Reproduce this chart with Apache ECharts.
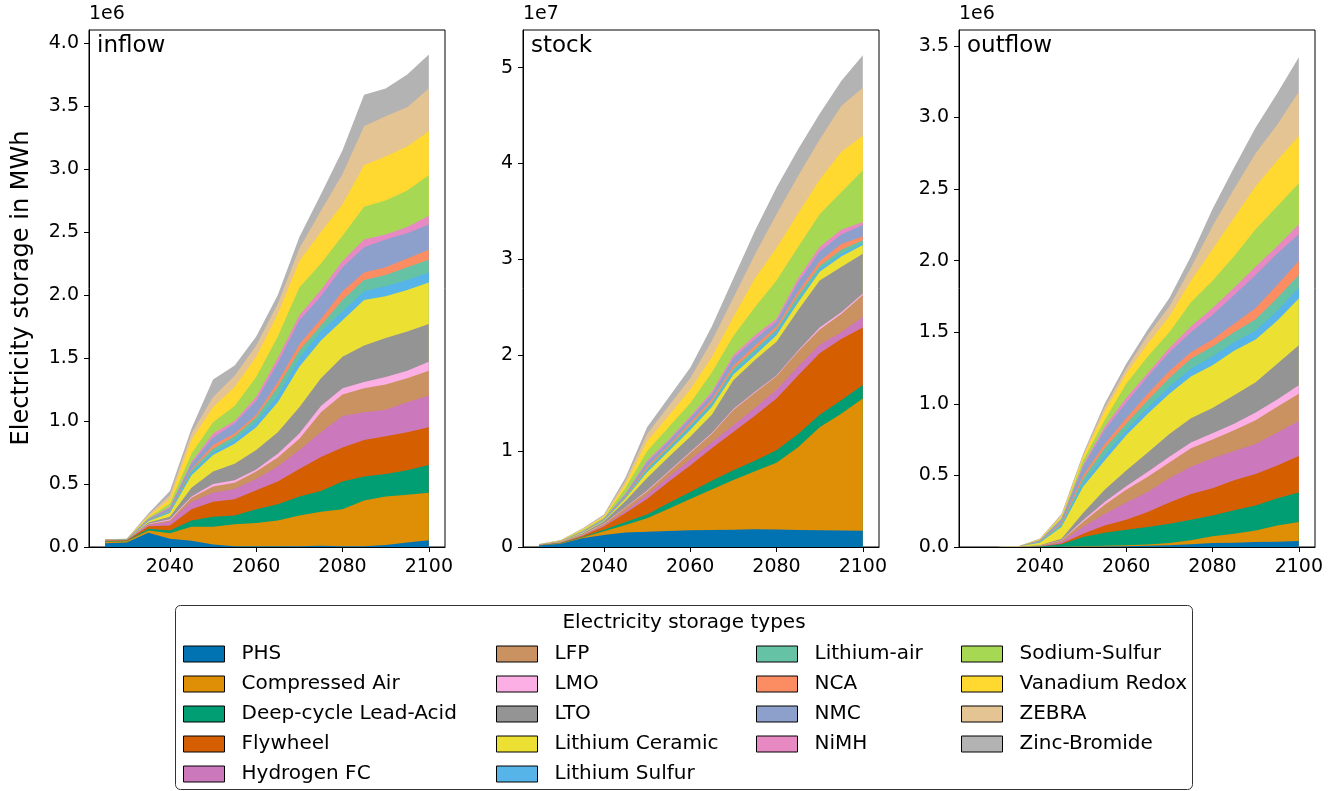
<!DOCTYPE html>
<html>
<head>
<meta charset="utf-8">
<title>Electricity storage inflow / stock / outflow</title>
<script src="https://cdn.jsdelivr.net/npm/echarts@6/dist/echarts.min.js"></script>
<style>
  html, body { margin: 0; padding: 0; background: #fff; }
  #chart { width: 1340px; height: 791px; }
</style>
</head>
<body>
<div id="chart"></div>
<script>
// ---- data ----
const years = [2025, 2030, 2035, 2040, 2045, 2050, 2055, 2060, 2065, 2070, 2075, 2080, 2085, 2090, 2095, 2100];

const storageTypes = [
  "PHS", "Compressed Air", "Deep-cycle Lead-Acid", "Flywheel", "Hydrogen FC",
  "LFP", "LMO", "LTO", "Lithium Ceramic", "Lithium Sulfur",
  "Lithium-air", "NCA", "NMC", "NiMH",
  "Sodium-Sulfur", "Vanadium Redox", "ZEBRA", "Zinc-Bromide"
];

const colors = [
  "#0173b2", "#de8f05", "#029e73", "#d55e00", "#cc78bc",
  "#ca9161", "#fbafe4", "#949494", "#ece133", "#56b4e9",
  "#66c2a5", "#fc8d62", "#8da0cb", "#e78ac3",
  "#a6d854", "#ffd92f", "#e5c494", "#b3b3b3"
];

// upper edge of each stacked layer (same order as storageTypes), in 1e6 MWh
const inflowTops = [
  [.030, .035, .113, .066, .050, .020, .005, .005, .005, .005, .010, .005, .005, .015, .035, .053],
  [.042, .045, .130, .110, .160, .160, .180, .190, .210, .250, .280, .300, .370, .400, .415, .430],
  [.046, .049, .145, .130, .210, .240, .250, .300, .340, .400, .445, .520, .560, .580, .610, .650],
  [.050, .053, .165, .170, .300, .360, .380, .450, .520, .620, .715, .790, .850, .880, .910, .950],
  [.052, .055, .175, .200, .360, .430, .460, .540, .640, .770, .910, 1.04, 1.07, 1.09, 1.15, 1.20],
  [.053, .056, .180, .210, .390, .480, .510, .600, .710, .860, 1.07, 1.21, 1.26, 1.29, 1.34, 1.40],
  [.0535, .0565, .185, .220, .400, .500, .530, .615, .740, .900, 1.12, 1.26, 1.31, 1.35, 1.40, 1.47],
  [.0545, .0575, .195, .240, .470, .600, .660, .770, .910, 1.11, 1.34, 1.51, 1.60, 1.66, 1.71, 1.77],
  [.0555, .0585, .205, .270, .570, .730, .820, .950, 1.15, 1.43, 1.64, 1.80, 1.96, 1.99, 2.04, 2.10],
  [.056, .059, .208, .280, .590, .750, .850, .990, 1.20, 1.50, 1.71, 1.87, 2.03, 2.07, 2.12, 2.18],
  [.0565, .0595, .210, .285, .610, .780, .880, 1.03, 1.27, 1.56, 1.76, 1.96, 2.12, 2.16, 2.22, 2.28],
  [.057, .060, .213, .290, .620, .810, .900, 1.05, 1.31, 1.61, 1.81, 2.03, 2.18, 2.22, 2.29, 2.36],
  [.058, .061, .222, .310, .660, .870, .980, 1.16, 1.46, 1.80, 1.99, 2.22, 2.38, 2.44, 2.49, 2.56],
  [.0585, .0615, .225, .320, .675, .900, 1.00, 1.19, 1.50, 1.84, 2.04, 2.27, 2.44, 2.48, 2.54, 2.63],
  [.0595, .0625, .233, .345, .740, .990, 1.12, 1.35, 1.67, 2.06, 2.25, 2.47, 2.70, 2.75, 2.83, 2.95],
  [.0605, .0635, .243, .380, .850, 1.11, 1.27, 1.51, 1.85, 2.27, 2.50, 2.72, 3.03, 3.10, 3.18, 3.30],
  [.0615, .0645, .254, .410, .900, 1.19, 1.36, 1.60, 1.93, 2.37, 2.67, 2.96, 3.34, 3.42, 3.49, 3.64],
  [.0625, .0655, .265, .445, .940, 1.33, 1.44, 1.67, 2.00, 2.46, 2.80, 3.15, 3.59, 3.64, 3.75, 3.91]
];

// stock, in 1e7 MWh
const stockTops = [
  [.015, .035, .090, .125, .150, .160, .167, .174, .177, .180, .185, .182, .178, .174, .172, .170],
  [.017, .040, .100, .165, .230, .300, .400, .500, .600, .700, .790, .880, 1.04, 1.25, 1.39, 1.55],
  [.018, .042, .105, .180, .260, .340, .460, .575, .690, .800, .900, 1.01, 1.18, 1.38, 1.53, 1.69],
  [.019, .045, .115, .215, .355, .500, .680, .850, 1.03, 1.20, 1.37, 1.55, 1.79, 2.02, 2.17, 2.29],
  [.020, .047, .120, .225, .375, .540, .730, .910, 1.09, 1.27, 1.45, 1.64, 1.88, 2.11, 2.24, 2.40],
  [.021, .049, .128, .240, .410, .580, .780, .980, 1.18, 1.43, 1.61, 1.78, 2.04, 2.27, 2.43, 2.63],
  [.0215, .050, .130, .245, .415, .590, .790, .990, 1.19, 1.44, 1.62, 1.79, 2.05, 2.29, 2.45, 2.645],
  [.023, .053, .142, .265, .480, .720, .940, 1.15, 1.38, 1.74, 1.95, 2.14, 2.47, 2.78, 2.92, 3.06],
  [.024, .055, .148, .275, .505, .780, 1.00, 1.22, 1.46, 1.80, 2.00, 2.21, 2.55, 2.87, 3.03, 3.15],
  [.0243, .0555, .150, .278, .512, .800, 1.02, 1.25, 1.49, 1.83, 2.03, 2.25, 2.58, 2.90, 3.06, 3.17],
  [.0246, .056, .152, .281, .520, .820, 1.04, 1.27, 1.51, 1.86, 2.06, 2.27, 2.62, 2.93, 3.10, 3.20],
  [.025, .057, .155, .284, .527, .840, 1.06, 1.30, 1.54, 1.89, 2.10, 2.30, 2.66, 2.98, 3.16, 3.24],
  [.026, .059, .160, .292, .550, .880, 1.10, 1.34, 1.59, 1.97, 2.17, 2.35, 2.76, 3.08, 3.26, 3.36],
  [.0265, .060, .162, .295, .557, .900, 1.12, 1.36, 1.62, 2.00, 2.21, 2.38, 2.80, 3.13, 3.31, 3.39],
  [.028, .064, .172, .305, .615, 1.00, 1.25, 1.50, 1.82, 2.20, 2.50, 2.78, 3.13, 3.47, 3.70, 3.93],
  [.029, .067, .180, .318, .655, 1.10, 1.37, 1.64, 1.98, 2.40, 2.80, 3.12, 3.48, 3.83, 4.12, 4.29],
  [.030, .070, .187, .328, .690, 1.18, 1.47, 1.76, 2.15, 2.60, 3.05, 3.47, 3.87, 4.25, 4.60, 4.79],
  [.031, .072, .193, .340, .725, 1.25, 1.56, 1.87, 2.30, 2.80, 3.30, 3.75, 4.15, 4.52, 4.86, 5.13]
];

// outflow, in 1e6 MWh
const outflowTops = [
  [0, 0, 0, 0, .001, .002, .003, .005, .008, .012, .020, .028, .030, .035, .037, .042],
  [0, 0, 0, 0, .002, .005, .008, .012, .018, .028, .047, .075, .093, .116, .150, .175],
  [0, 0, 0, .003, .020, .070, .100, .120, .140, .163, .190, .220, .256, .290, .340, .380],
  [0, 0, 0, .004, .025, .093, .150, .190, .245, .310, .370, .410, .466, .510, .570, .636],
  [0, 0, .0005, .006, .035, .140, .230, .310, .385, .480, .560, .620, .670, .720, .800, .880],
  [0, 0, .001, .008, .045, .175, .295, .400, .490, .590, .690, .750, .815, .885, .980, 1.07],
  [0, 0, .001, .009, .048, .186, .315, .425, .525, .630, .730, .795, .860, .940, 1.03, 1.13],
  [0, 0, .0015, .012, .058, .238, .400, .535, .660, .790, .900, .970, 1.06, 1.15, 1.28, 1.41],
  [0, 0, .003, .030, .140, .420, .605, .780, .930, 1.07, 1.19, 1.27, 1.37, 1.45, 1.58, 1.735],
  [0, 0, .0032, .033, .150, .447, .640, .815, .975, 1.12, 1.245, 1.33, 1.43, 1.51, 1.65, 1.81],
  [0, 0, .0034, .036, .160, .477, .690, .860, 1.025, 1.18, 1.315, 1.40, 1.50, 1.59, 1.74, 1.90],
  [0, 0, .0036, .039, .170, .500, .720, .900, 1.07, 1.23, 1.36, 1.45, 1.56, 1.67, 1.83, 2.00],
  [0, 0, .004, .045, .190, .560, .815, 1.01, 1.19, 1.36, 1.50, 1.62, 1.76, 1.90, 2.05, 2.185],
  [0, 0, .0042, .047, .195, .575, .840, 1.04, 1.215, 1.39, 1.54, 1.67, 1.81, 1.96, 2.10, 2.255],
  [0, 0, .0045, .050, .205, .605, .885, 1.14, 1.33, 1.50, 1.71, 1.86, 2.03, 2.22, 2.38, 2.54],
  [0, 0, .0048, .055, .215, .630, .945, 1.21, 1.42, 1.61, 1.86, 2.08, 2.30, 2.52, 2.70, 2.87],
  [0, 0, .005, .058, .222, .640, .975, 1.245, 1.48, 1.68, 1.95, 2.24, 2.50, 2.75, 2.95, 3.18],
  [0, 0, .0052, .060, .230, .652, 1.00, 1.28, 1.52, 1.74, 2.03, 2.36, 2.65, 2.93, 3.17, 3.42]
];

const xTicks = [2040, 2060, 2080, 2100];
const inflowTicks = [0, 0.5, 1.0, 1.5, 2.0, 2.5, 3.0, 3.5, 4.0];
const stockTicks = [0, 1, 2, 3, 4, 5];
const outflowTicks = [0, 0.5, 1.0, 1.5, 2.0, 2.5, 3.0, 3.5];

// ---- layout ----
const FONT = "DejaVu Sans";
const panels = [
  { key: "inflow", tops: inflowTops, left: 89, yMax: 4.104, ticks: inflowTicks, digits: 1, offset: "1e6" },
  { key: "stock", tops: stockTops, left: 523, yMax: 5.393, ticks: stockTicks, digits: 0, offset: "1e7" },
  { key: "outflow", tops: outflowTops, left: 959, yMax: 3.611, ticks: outflowTicks, digits: 1, offset: "1e6" }
];

const grids = [], xAxes = [], yAxes = [], series = [], graphics = [];

panels.forEach((p, pi) => {
  grids.push({
    left: p.left, top: 30, width: 356, height: 517,
    show: true, borderColor: "#000", borderWidth: 1, backgroundColor: "transparent"
  });
  xAxes.push({
    type: "value", gridIndex: pi, min: 2021.25, max: 2103.75,
    splitLine: { show: false },
    axisLine: { lineStyle: { color: "#000", width: 1 } },
    axisTick: { length: 5, lineStyle: { color: "#000" }, customValues: xTicks },
    axisLabel: {
      customValues: xTicks, fontSize: 19, color: "#000", fontFamily: FONT, margin: 11,
      formatter: (v) => String(v)
    }
  });
  yAxes.push({
    type: "value", gridIndex: pi, min: 0, max: p.yMax,
    splitLine: { show: false },
    axisLine: { show: true, lineStyle: { color: "#000", width: 1 } },
    axisTick: { show: true, length: 5, lineStyle: { color: "#000" }, customValues: p.ticks },
    axisLabel: {
      customValues: p.ticks, fontSize: 19, color: "#000", fontFamily: FONT, margin: 10,
      formatter: (v) => v.toFixed(p.digits)
    }
  });

  // each layer is filled from its upper edge down to zero; drawing the top
  // layer first and the bottom layer last leaves each colour in its own band
  for (let i = storageTypes.length - 1; i >= 0; i--) {
    series.push({
      name: storageTypes[i],
      type: "line",
      xAxisIndex: pi,
      yAxisIndex: pi,
      data: years.map((yr, j) => [yr, p.tops[i][j]]),
      symbol: "none",
      smooth: false,
      lineStyle: { width: 0 },
      itemStyle: { color: colors[i] },
      areaStyle: { color: colors[i], opacity: 1 },
      emphasis: { disabled: true },
      silent: true
    });
  }

  // offset text (1e6 / 1e7) and panel label
  graphics.push({
    type: "text", left: p.left, top: 5,
    style: { text: p.offset, fontSize: 19, fill: "#000", fontFamily: FONT }
  });
  graphics.push({
    type: "text", left: p.left + 8, top: 35,
    style: { text: p.key, fontSize: 23, fill: "#000", fontFamily: FONT }
  });
});

// y axis title
graphics.push({
  type: "text", x: 22, y: 288, rotation: Math.PI / 2,
  style: {
    text: "Electricity storage in MWh", fontSize: 24, fill: "#000", fontFamily: FONT,
    align: "center", verticalAlign: "middle"
  }
});

// legend frame and title
graphics.push({
  type: "rect", z: -1,
  shape: { x: 175.5, y: 605.5, width: 1017, height: 184, r: 5 },
  style: { fill: "#fff", stroke: "#333", lineWidth: 1 }
});
graphics.push({
  type: "text", x: 684, y: 623,
  style: {
    text: "Electricity storage types", fontSize: 20, fill: "#000", fontFamily: FONT,
    align: "center", verticalAlign: "middle"
  }
});

// four legend columns
const legendCols = [[0, 5, 183], [5, 10, 496], [10, 14, 756], [14, 18, 961]];
const legends = legendCols.map(([a, b, x]) => ({
  data: storageTypes.slice(a, b),
  orient: "vertical",
  left: x,
  top: 644,
  padding: 0,
  icon: "rect",
  itemWidth: 41,
  itemHeight: 16,
  itemGap: 10,
  selectedMode: false,
  itemStyle: { borderColor: "#000", borderWidth: 1 },
  textStyle: { fontSize: 20, color: "#000", fontFamily: FONT, padding: [0, 0, 0, 12] }
}));

const chart = echarts.init(document.getElementById("chart"));
chart.setOption({
  animation: false,
  textStyle: { fontFamily: FONT },
  grid: grids,
  xAxis: xAxes,
  yAxis: yAxes,
  legend: legends,
  graphic: graphics,
  series: series
});
</script>
</body>
</html>
